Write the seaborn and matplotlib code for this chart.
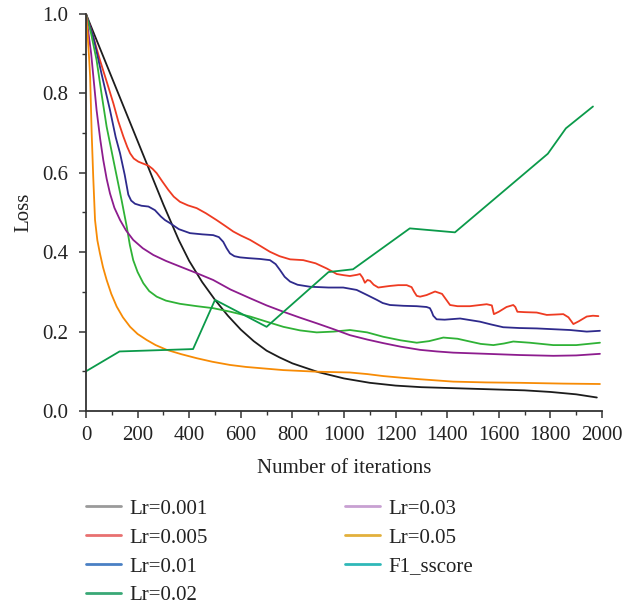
import numpy as np
import pandas as pd
import matplotlib
matplotlib.use("Agg")
import matplotlib.pyplot as plt
from matplotlib.lines import Line2D
from matplotlib.ticker import MultipleLocator
import seaborn as sns

# ---------------- data ----------------
x_001 = [0, 100, 200, 300, 330, 360, 400, 450, 500, 550, 600, 650, 700, 750, 800, 900, 1000,
         1100, 1200, 1300, 1400, 1500, 1600, 1700, 1800, 1900, 1980]
y_001 = [1.0, 0.84, 0.68, 0.52, 0.475, 0.43, 0.378, 0.325, 0.28, 0.24, 0.205, 0.176, 0.152, 0.135,
         0.12, 0.098, 0.082, 0.071, 0.064, 0.060, 0.058, 0.056, 0.054, 0.052, 0.048, 0.042, 0.034]

x_005 = [0, 25, 54, 80, 106, 125, 145, 160, 171, 185, 203, 222, 242, 258, 274, 296, 319, 340,
         364, 395, 429, 465, 506, 540, 571, 600, 636, 675, 713, 750, 791, 842,
         890, 933, 972, 1000, 1023, 1050, 1062, 1072, 1081, 1091, 1101, 1115, 1133, 1155,
         1178, 1210, 1243, 1262, 1272, 1282, 1295, 1320, 1353, 1380, 1411, 1440,
         1488, 1553, 1573, 1577, 1581, 1600, 1630, 1656, 1664, 1672, 1700, 1747, 1786, 1820,
         1850, 1870, 1889, 1910, 1941, 1965, 1986]
y_005 = [1.0, 0.95, 0.884, 0.83, 0.775, 0.73, 0.691, 0.665, 0.649, 0.636, 0.628, 0.623,
         0.618, 0.610, 0.599, 0.578, 0.557, 0.540, 0.527, 0.518, 0.511, 0.498, 0.481,
         0.466, 0.452, 0.442, 0.431, 0.416, 0.401, 0.390, 0.382, 0.380, 0.372, 0.359,
         0.345, 0.342, 0.340, 0.343, 0.345, 0.336, 0.323, 0.330, 0.328, 0.318, 0.311,
         0.313, 0.315, 0.317, 0.317, 0.312, 0.300, 0.290, 0.288, 0.292, 0.301, 0.295,
         0.267, 0.264, 0.264, 0.269, 0.266, 0.255, 0.244, 0.250, 0.262, 0.267, 0.262,
         0.250, 0.249, 0.248, 0.242, 0.243, 0.244, 0.236, 0.219, 0.226, 0.238, 0.240, 0.239]

x_01 = [0, 28, 60, 93, 115, 132, 150, 164, 175, 190, 215, 242, 267, 290, 306, 326, 360, 403,
        450, 493, 515, 532, 545, 558, 575, 597, 630, 674, 713, 735,
        752, 770, 791, 820, 868, 940, 997, 1049, 1090, 1127, 1150, 1178, 1230, 1282, 1320, 1333,
        1340, 1346, 1359, 1390, 1450, 1527, 1570, 1617, 1680, 1747, 1876, 1941, 1992]
y_01 = [1.0, 0.943, 0.85, 0.758, 0.69, 0.649, 0.595, 0.545, 0.530, 0.522, 0.517, 0.515,
        0.506, 0.490, 0.481, 0.473, 0.458, 0.448, 0.445, 0.443, 0.438, 0.426, 0.410, 0.397,
        0.390, 0.387, 0.385, 0.383, 0.380, 0.370, 0.355, 0.338, 0.326, 0.318, 0.313,
        0.311, 0.311, 0.305, 0.292, 0.280, 0.272, 0.267, 0.265, 0.264, 0.262, 0.259,
        0.250, 0.240, 0.231, 0.230, 0.233, 0.225, 0.218, 0.211, 0.209, 0.208, 0.204, 0.200, 0.202]

x_02 = [0, 20, 41, 60, 80, 110, 138, 158, 170, 183, 200, 222, 245, 274, 310, 364, 430, 493,
        560, 636, 700, 765, 830, 894, 960, 1023, 1090, 1152, 1220, 1282, 1330,
        1385, 1440, 1488, 1530, 1579, 1620, 1656, 1720, 1811, 1900, 1992]
y_02 = [1.0, 0.95, 0.884, 0.80, 0.716, 0.62, 0.531, 0.464, 0.418, 0.380, 0.350, 0.322,
        0.302, 0.288, 0.278, 0.270, 0.264, 0.259, 0.250, 0.238, 0.225, 0.212, 0.203,
        0.198, 0.200, 0.204, 0.198, 0.187, 0.178, 0.172, 0.176, 0.185, 0.182, 0.175,
        0.169, 0.166, 0.170, 0.175, 0.172, 0.166, 0.166, 0.172]

x_03 = [0, 20, 41, 55, 67, 80, 93, 110, 132, 155, 183, 220, 261, 310, 364, 430, 493, 560,
        636, 700, 765, 830, 894, 960, 1023, 1090, 1152, 1220, 1295, 1360, 1423,
        1553, 1680, 1811, 1900, 1992]
y_03 = [1.0, 0.90, 0.758, 0.685, 0.632, 0.585, 0.548, 0.512, 0.481, 0.455, 0.431, 0.410,
        0.393, 0.378, 0.364, 0.347, 0.330, 0.306, 0.284, 0.266, 0.250, 0.235, 0.221,
        0.206, 0.191, 0.180, 0.171, 0.162, 0.154, 0.150, 0.147, 0.144, 0.141, 0.139, 0.140, 0.144]

x_05 = [0, 4, 8, 12, 16, 22, 28, 35, 44, 54, 66, 80, 98, 119, 143, 171, 200, 235, 270, 313,
        370, 429, 490, 558, 620, 674, 765, 894, 1023, 1090, 1152, 1220,
        1295, 1423, 1550, 1682, 1850, 1992]
y_05 = [1.0, 0.97, 0.93, 0.89, 0.842, 0.70, 0.590, 0.481, 0.43, 0.397, 0.362, 0.330, 0.295,
        0.263, 0.236, 0.212, 0.194, 0.179, 0.166, 0.154, 0.143, 0.133, 0.124, 0.116, 0.111,
        0.108, 0.103, 0.099, 0.097, 0.093, 0.088, 0.084, 0.080, 0.074, 0.072, 0.071, 0.069, 0.068]

x_f1 = [0, 130, 415, 500, 700, 940, 1035, 1255, 1430, 1790, 1860, 1965]
y_f1 = [0.10, 0.15, 0.156, 0.28, 0.212, 0.35, 0.357, 0.46, 0.45, 0.648, 0.712, 0.767]

labels = ["Lr=0.001", "Lr=0.005", "Lr=0.01", "Lr=0.02", "Lr=0.03", "Lr=0.05", "F1_sscore"]
x_ticks = [0, 200, 400, 600, 800, 1000, 1200, 1400, 1600, 1800, 2000]
y_ticks = [0.0, 0.2, 0.4, 0.6, 0.8, 1.0]

# ---------------- styling ----------------
sns.set_style("ticks")
plt.rcParams["font.family"] = ["Liberation Serif", "DejaVu Serif"]
plt.rcParams["font.size"] = 15

line_colors = ["#1c1c1c", "#ee3b22", "#2e2a8c", "#2fb236", "#8d1c8e", "#f78b05", "#0b9a4a"]
legend_colors = ["#9a9a9a", "#e87070", "#4a80c4", "#39a876", "#c8a0d2", "#e2b03c", "#2fb8b8"]

series = [(x_001, y_001), (x_005, y_005), (x_01, y_01), (x_02, y_02),
          (x_03, y_03), (x_05, y_05), (x_f1, y_f1)]

fig = plt.figure(figsize=(6.35, 6.10), dpi=100)
ax = fig.add_axes([86 / 635, 1 - 411 / 610, (602 - 86) / 635, (411 - 14) / 610])

for (xs, ys), lab, col in zip(series, labels, line_colors):
    df = pd.DataFrame({"x": xs, "y": ys})
    sns.lineplot(data=df, x="x", y="y", ax=ax, color=col, linewidth=1.3,
                 legend=False, estimator=None, sort=False)

ax.set_xlim(0, 2000)
ax.set_ylim(0, 1.0)
ax.set_xticks(x_ticks)
ax.set_yticks(y_ticks)
ax.set_yticklabels([f"{v:.1f}" for v in y_ticks])
ax.xaxis.set_minor_locator(MultipleLocator(100))
ax.yaxis.set_minor_locator(MultipleLocator(0.1))
ax.tick_params(which="major", length=5, width=1.1, color="#333333", labelsize=15,
               labelcolor="#222222")
ax.tick_params(axis="x", which="major", pad=6)
ax.tick_params(axis="y", which="major", pad=8)
ax.tick_params(which="minor", length=3, width=1.0, color="#333333")
for s in ["top", "right"]:
    ax.spines[s].set_visible(False)
for s in ["left", "bottom"]:
    ax.spines[s].set_linewidth(1.3)
    ax.spines[s].set_color("#333333")

ax.set_xlabel("Number of iterations", fontsize=15, color="#222222", labelpad=10)
ax.set_ylabel("Loss", fontsize=15, color="#222222", labelpad=6)

handles = [Line2D([0], [0], color=c, linewidth=2) for c in legend_colors]
fig.legend(handles, labels, loc="upper left", bbox_to_anchor=(86 / 635, 1 - 499 / 610),
           ncol=2, frameon=False, fontsize=15, handlelength=1.7, handletextpad=0.4,
           columnspacing=6.55, labelspacing=0.45, borderpad=0, borderaxespad=0,
           labelcolor="#222222")

fig.savefig("out.png", dpi=100)
